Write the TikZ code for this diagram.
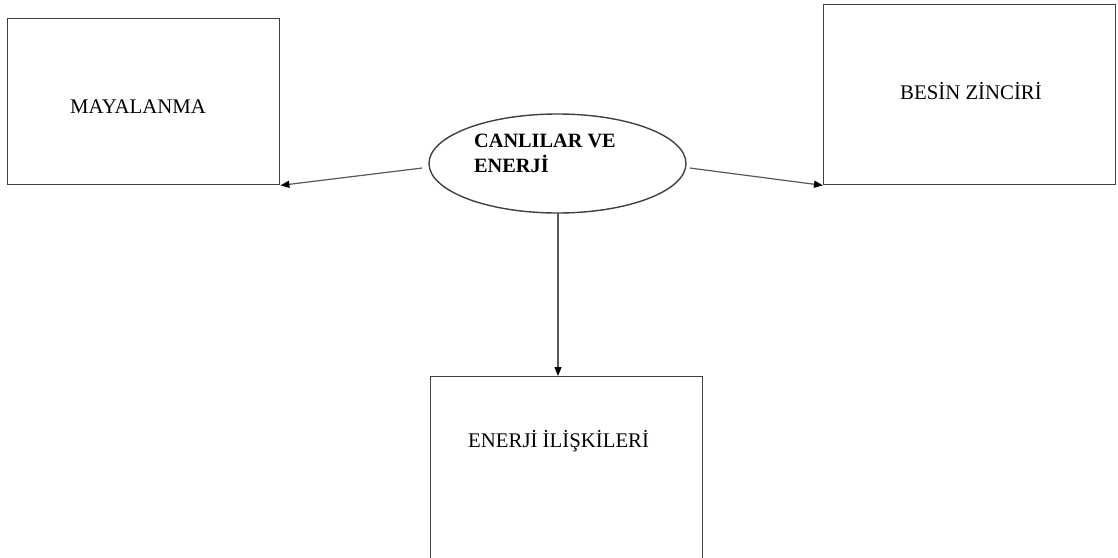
\documentclass[tikz,border=0pt]{standalone}
\usepackage{fontspec}
\setmainfont{Liberation Serif}
\usetikzlibrary{arrows.meta,shapes.geometric,calc}
\begin{document}
\begin{tikzpicture}[x=1pt,y=-1pt,
  boxframe/.style={draw=black!75,line width=1.4pt,rectangle,inner sep=0pt,anchor=north west},
  lbl/.style={anchor=base west,inner sep=0pt,font=\fontsize{20.8}{25}\selectfont},
  conn/.style={draw=black!65,line width=1.2pt,-{Triangle[length=9pt,width=7pt,black]}}]
\useasboundingbox (0,0) rectangle (1118,557);
\clip (0,0) rectangle (1118,557);
\fill[white] (0,0) rectangle (1118,557);
% boxes
\node[boxframe,minimum width=272pt,minimum height=166pt] (may) at (7,18) {};
\node[boxframe,minimum width=292pt,minimum height=180pt] (besin) at (823,4) {};
\node[boxframe,minimum width=272pt,minimum height=220pt] (iliski) at (430,376) {};
% ellipse
\node[draw=black!75,line width=1.4pt,ellipse,minimum width=257pt,minimum height=99pt,inner sep=0pt] (ell) at (557.5,163.5) {};
% labels
\node[lbl] (tmay) at (70,113) {MAYALANMA};
\node[lbl] (tbesin) at (900,99) {BESİN ZİNCİRİ};
\node[lbl] (tili) at (468,447.5) {ENERJİ İLİŞKİLERİ};
\node[lbl,font=\fontsize{20.3}{25}\selectfont\bfseries,align=left] (tell) at (474,172) {CANLILAR VE\\ENERJİ};
% connector ends
\coordinate (lstart) at ($(ell.west)+(-6,4.5)$);
\coordinate (rstart) at ($(ell.east)+(3,4.5)$);
\coordinate (dstart) at (558,213);
\coordinate (dend) at (558,376);
\draw[conn] (lstart) -- (may.south east);
\draw[conn] (rstart) -- (besin.south west);
\draw[conn] (dstart) -- (dend);
\end{tikzpicture}
\end{document}
